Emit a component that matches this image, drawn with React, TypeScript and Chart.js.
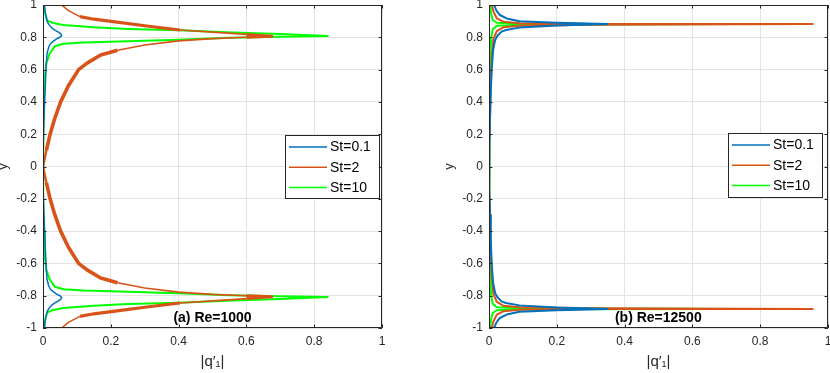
import React, { useEffect, useRef } from "react";
import { Chart, registerables } from "chart.js";

Chart.register(...registerables);

// ---------- shared labels ----------
const xTickLabels = ["0", "0.2", "0.4", "0.6", "0.8", "1"];
const yTickLabels = ["-1", "-0.8", "-0.6", "-0.4", "-0.2", "0", "0.2", "0.4", "0.6", "0.8", "1"];
const seriesLabels = ["St=0.1", "St=2", "St=10"];
const seriesColors = ["#0072BD", "#D95319", "#00FF00"];
const xTitle = "|q\u2032\u2081|";
const yTitle = "y";

// ---------- panel (a) Re=1000 : upper half (y from 1 down to 0), mirrored below ----------
const aSt01Y = [1, 0.95, 0.9, 0.88, 0.86, 0.845, 0.83, 0.82, 0.81, 0.8, 0.79, 0.775, 0.76, 0.74, 0.7, 0.618, 0.455, 0.31, 0.15, 0];
const aSt01X = [0.004, 0.007, 0.012, 0.017, 0.025, 0.035, 0.047, 0.053, 0.055, 0.05, 0.04, 0.03, 0.022, 0.017, 0.012, 0.009, 0.006, 0.003, 0.001, 0];

const aSt2Y = [1, 1, 0.965, 0.928, 0.912, 0.897, 0.87, 0.845, 0.832, 0.818, 0.806, 0.8, 0.792, 0.778, 0.752, 0.72, 0.69, 0.64, 0.6, 0.5, 0.4, 0.3, 0.2, 0.1, 0];
const aSt2X = [0, 0.055, 0.075, 0.109, 0.15, 0.207, 0.306, 0.404, 0.5, 0.6, 0.675, 0.6, 0.5, 0.4, 0.3, 0.22, 0.17, 0.13, 0.105, 0.075, 0.052, 0.035, 0.021, 0.01, 0];

const aSt10Y = [1, 0.95, 0.905, 0.888, 0.876, 0.862, 0.852, 0.843, 0.83, 0.82, 0.808, 0.803, 0.797, 0.785, 0.776, 0.768, 0.76, 0.745, 0.7, 0.64, 0.55, 0.4, 0.2, 0];
const aSt10X = [0.003, 0.006, 0.012, 0.03, 0.06, 0.15, 0.25, 0.4, 0.56, 0.7, 0.84, 0.7, 0.55, 0.4, 0.25, 0.12, 0.06, 0.035, 0.02, 0.01, 0.005, 0.003, 0.001, 0];

// ---------- panel (b) Re=12500 ----------
const bSt01Y = [1, 0.965, 0.938, 0.917, 0.9, 0.89, 0.882, 0.873, 0.86, 0.845, 0.835, 0.81, 0.783, 0.72, 0.6, 0.45, 0.3, 0.15, 0];
const bSt01X = [0.015, 0.022, 0.032, 0.052, 0.09, 0.2, 0.35, 0.2, 0.09, 0.05, 0.037, 0.025, 0.018, 0.012, 0.008, 0.005, 0.003, 0.001, 0];

const bSt2Y = [1, 0.96, 0.917, 0.897, 0.887, 0.883, 0.882, 0.878, 0.872, 0.862, 0.838, 0.79, 0.68, 0.5, 0.3, 0.15, 0];
const bSt2X = [0.008, 0.013, 0.023, 0.042, 0.091, 0.3, 0.955, 0.3, 0.091, 0.042, 0.023, 0.013, 0.008, 0.005, 0.003, 0.001, 0];

const bSt10Y = [1, 0.948, 0.907, 0.89, 0.884, 0.882, 0.878, 0.872, 0.85, 0.79, 0.62, 0.4, 0.2, 0];
const bSt10X = [0.003, 0.006, 0.011, 0.023, 0.09, 0.725, 0.09, 0.023, 0.011, 0.006, 0.003, 0.002, 0.001, 0];

const FONT = "'Liberation Sans', Arial, Helvetica, sans-serif";
const TXT = "#262626";

// upper half followed by its mirror image below the centreline
function profile(xs: number[], ys: number[]) {
  const pts = xs.map((x, i) => ({ x, y: ys[i] }));
  const lower = pts
    .slice(0, pts.length - 1)
    .reverse()
    .map((p) => ({ x: p.x, y: -p.y }));
  return pts.concat(lower);
}

// the St=2 curve of panel (a) is drawn with a ragged (thick) trace over parts of its length
function raggedWidth(ctx: any) {
  const a = ctx.p0.parsed;
  const b = ctx.p1.parsed;
  const ya = Math.abs(a.y);
  const yb = Math.abs(b.y);
  if (ya <= 0.74 && yb <= 0.74 && ya >= 0.1 && yb >= 0.1) return 3.6;
  if (ya <= 0.74 && yb <= 0.74) return 2.4;
  if (ya >= 0.84 && yb >= 0.84 && a.x >= 0.1 && b.x >= 0.1 && a.x <= 0.45 && b.x <= 0.45) return 3.2;
  if (ya >= 0.8 && yb >= 0.8 && a.x >= 0.55 && b.x >= 0.55) return 3;
  return 1.6;
}

type PanelSpec = {
  series: { xs: number[]; ys: number[]; width: number; ragged?: boolean }[];
  note: string;
  canvasWidth: number;
  yAxisWidth: number;
  rightPad: number;
  yTitlePad: number;
  legendBox: { x: number; y: number; w: number; h: number };
  noteX: number;
};

const decorPlugin = {
  id: "decor",
  afterDatasetsDraw(chart: any, _args: any, opts: any) {
    const { ctx, chartArea } = chart;
    const { left, right, top, bottom } = chartArea;
    const xs = chart.scales.x;
    const ys = chart.scales.y;
    ctx.save();
    // box
    ctx.strokeStyle = TXT;
    ctx.lineWidth = 1;
    ctx.beginPath();
    ctx.rect(left + 0.5, top + 0.5, right - left - 1, bottom - top - 1);
    ctx.stroke();
    // inward ticks
    const tl = 3.5;
    ctx.beginPath();
    xs.ticks.forEach((t: any) => {
      const px = Math.round(xs.getPixelForValue(t.value)) + 0.5;
      ctx.moveTo(px, bottom);
      ctx.lineTo(px, bottom - tl);
      ctx.moveTo(px, top);
      ctx.lineTo(px, top + tl);
    });
    ys.ticks.forEach((t: any) => {
      const py = Math.round(ys.getPixelForValue(t.value)) + 0.5;
      ctx.moveTo(left, py);
      ctx.lineTo(left + tl, py);
      ctx.moveTo(right, py);
      ctx.lineTo(right - tl, py);
    });
    ctx.stroke();

    // legend
    const lb = opts.legendBox;
    ctx.fillStyle = "#ffffff";
    ctx.fillRect(lb.x, lb.y, lb.w, lb.h);
    ctx.strokeStyle = TXT;
    ctx.strokeRect(lb.x + 0.5, lb.y + 0.5, lb.w, lb.h);
    ctx.font = `14px ${FONT}`;
    ctx.textBaseline = "middle";
    ctx.textAlign = "left";
    chart.data.datasets.forEach((ds: any, i: number) => {
      const ry = lb.y + 12 + i * 20.3;
      ctx.strokeStyle = ds.borderColor;
      ctx.lineWidth = 1.5;
      ctx.beginPath();
      ctx.moveTo(lb.x + 4, ry);
      ctx.lineTo(lb.x + 42, ry);
      ctx.stroke();
      ctx.fillStyle = "#000000";
      ctx.fillText(ds.label, lb.x + 45, ry + 0.5);
    });

    // annotation
    ctx.font = `bold 14px ${FONT}`;
    ctx.fillStyle = "#000000";
    ctx.textAlign = "center";
    ctx.textBaseline = "middle";
    ctx.fillText(opts.note, opts.noteX, 318.5);
    ctx.restore();
  },
};

function buildConfig(spec: PanelSpec): any {
  return {
    type: "scatter",
    data: {
      datasets: spec.series.map((s, i) => ({
        label: seriesLabels[i],
        data: profile(s.xs, s.ys),
        borderColor: seriesColors[i],
        backgroundColor: seriesColors[i],
        borderWidth: s.width,
        showLine: true,
        pointRadius: 0,
        pointHoverRadius: 0,
        tension: 0,
        borderJoinStyle: "round",
        segment: s.ragged ? { borderWidth: raggedWidth } : undefined,
      })),
    },
    plugins: [decorPlugin],
    options: {
      responsive: false,
      animation: false,
      events: [],
      layout: { autoPadding: false, padding: { top: 5, right: spec.rightPad, left: 0, bottom: 0 } },
      plugins: {
        legend: { display: false },
        tooltip: { enabled: false },
        decor: { legendBox: spec.legendBox, note: spec.note, noteX: spec.noteX },
      },
      scales: {
        x: {
          type: "linear",
          min: 0,
          max: 1,
          ticks: {
            stepSize: 0.2,
            padding: 6,
            color: TXT,
            font: { family: FONT, size: 12 },
            maxRotation: 0,
            autoSkip: false,
            callback: (_v: any, i: number) => xTickLabels[i],
          },
          grid: { color: "#e4e4e4", drawTicks: false, lineWidth: 1 },
          border: { display: false },
          title: {
            display: true,
            text: xTitle,
            color: TXT,
            font: { family: FONT, size: 15 },
            padding: { top: 0, bottom: 2 },
          },
          afterFit: (s: any) => {
            s.height = 45;
            s.paddingLeft = 0;
            s.paddingRight = 0;
            s.paddingTop = 0;
            s.paddingBottom = 0;
          },
        },
        y: {
          type: "linear",
          min: -1,
          max: 1,
          ticks: {
            stepSize: 0.2,
            padding: 6,
            color: TXT,
            font: { family: FONT, size: 12 },
            autoSkip: false,
            callback: (_v: any, i: number) => yTickLabels[i],
          },
          grid: { color: "#e4e4e4", drawTicks: false, lineWidth: 1 },
          border: { display: false },
          title: {
            display: true,
            text: yTitle,
            color: TXT,
            font: { family: FONT, size: 13 },
            padding: { top: spec.yTitlePad, bottom: 0 },
          },
          afterFit: (s: any) => {
            s.width = spec.yAxisWidth;
            s.paddingLeft = 0;
            s.paddingRight = 0;
            s.paddingTop = 0;
            s.paddingBottom = 0;
          },
        },
      },
    },
  };
}

const panelA: PanelSpec = {
  series: [
    { xs: aSt01X, ys: aSt01Y, width: 1.5 },
    { xs: aSt2X, ys: aSt2Y, width: 1.6, ragged: true },
    { xs: aSt10X, ys: aSt10Y, width: 2 },
  ],
  note: "(a) Re=1000",
  canvasWidth: 415,
  yAxisWidth: 43,
  rightPad: 33,
  yTitlePad: -4,
  legendBox: { x: 285, y: 135, w: 94, h: 63 },
  noteX: 212.5,
};

const panelB: PanelSpec = {
  series: [
    { xs: bSt01X, ys: bSt01Y, width: 2 },
    { xs: bSt2X, ys: bSt2Y, width: 2 },
    { xs: bSt10X, ys: bSt10Y, width: 2 },
  ],
  note: "(b) Re=12500",
  canvasWidth: 415,
  yAxisWidth: 74,
  rightPad: 2,
  yTitlePad: 27,
  legendBox: { x: 313, y: 133, w: 94, h: 64 },
  noteX: 243.3,
};

function Panel({ spec, left }: { spec: PanelSpec; left: number }) {
  const ref = useRef<HTMLCanvasElement>(null);
  useEffect(() => {
    const chart = new Chart(ref.current as HTMLCanvasElement, buildConfig(spec));
    return () => chart.destroy();
  }, []);
  return (
    <div style={{ position: "absolute", left, top: 0, width: spec.canvasWidth, height: 373 }}>
      <canvas ref={ref} width={spec.canvasWidth} height={373} style={{ display: "block" }} />
    </div>
  );
}

export default function App() {
  return (
    <div
      style={{
        position: "fixed",
        left: 0,
        top: 0,
        width: 830,
        height: 373,
        background: "#ffffff",
        overflow: "hidden",
      }}
    >
      <Panel spec={panelA} left={0} />
      <Panel spec={panelB} left={415} />
    </div>
  );
}
